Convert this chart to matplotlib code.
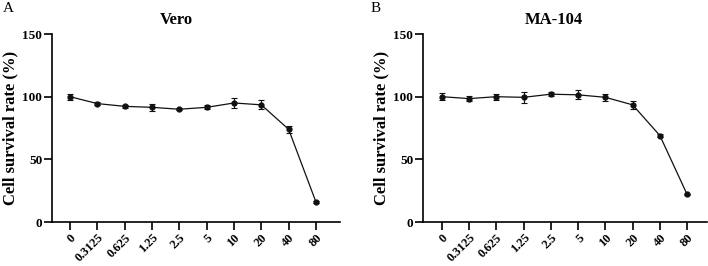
import numpy as np
import matplotlib.pyplot as plt

plt.rcParams['font.family'] = ['Liberation Serif', 'DejaVu Serif']

conc_labels = ['0', '0.3125', '0.625', '1.25', '2.5', '5', '10', '20', '40', '80']

vero_mean = [100, 94.5, 92.3, 91.5, 90.0, 91.5, 95.0, 93.5, 74.0, 16.0]
vero_err = [2.5, 1.5, 1.3, 2.8, 1.0, 1.5, 4.0, 3.5, 3.0, 0.5]

ma104_mean = [100, 98.5, 100, 99.5, 102, 101.5, 99.5, 93.5, 69.0, 22.0]
ma104_err = [3.0, 2.0, 2.5, 4.5, 1.5, 3.5, 3.0, 3.0, 1.2, 0.5]

fig = plt.figure(figsize=(7.08, 2.66), dpi=100)
axA = fig.add_axes([0.0734, 0.1654, 0.4068, 0.7066])
axB = fig.add_axes([0.5975, 0.1654, 0.4011, 0.7066])

x = np.arange(len(conc_labels))

def draw(ax, mean, err, xlim):
    ax.errorbar(x, mean, yerr=err, color='#111111', lw=0.9, marker='o', ms=3.5,
                capsize=2, elinewidth=0.8, capthick=0.8)
    ax.set_xlim(*xlim)
    ax.set_ylim(0, 150)
    ax.set_yticks([0, 50, 100, 150])
    ax.set_xticks(x)
    ax.set_xticklabels(conc_labels, rotation=45, ha='right', rotation_mode='anchor',
                       fontweight='bold', fontsize=9)
    for lab in ax.get_yticklabels():
        lab.set_fontweight('bold')
        lab.set_fontsize(9.5)
    ax.spines['top'].set_visible(False)
    ax.spines['right'].set_visible(False)
    ax.spines['left'].set_linewidth(1.2)
    ax.spines['bottom'].set_linewidth(1.2)
    ax.tick_params(axis='both', direction='out', length=6, width=1.2, pad=1)
    ax.set_ylabel('Cell survival rate (%)', fontweight='bold', fontsize=12, labelpad=3)

draw(axA, vero_mean, vero_err, (-0.66, 9.88))
draw(axB, ma104_mean, ma104_err, (-0.69, 9.73))

fig.text(176 / 708, 1 - 20 / 266, 'Vero', ha='center', va='center', fontweight='bold', fontsize=12)
fig.text(554 / 708, 1 - 20 / 266, 'MA-104', ha='center', va='center', fontweight='bold', fontsize=12)
fig.text(3 / 708, 1 - 8 / 266, 'A', ha='left', va='center', fontsize=11)
fig.text(371 / 708, 1 - 8 / 266, 'B', ha='left', va='center', fontsize=11)

plt.savefig('out.png', dpi=100)
